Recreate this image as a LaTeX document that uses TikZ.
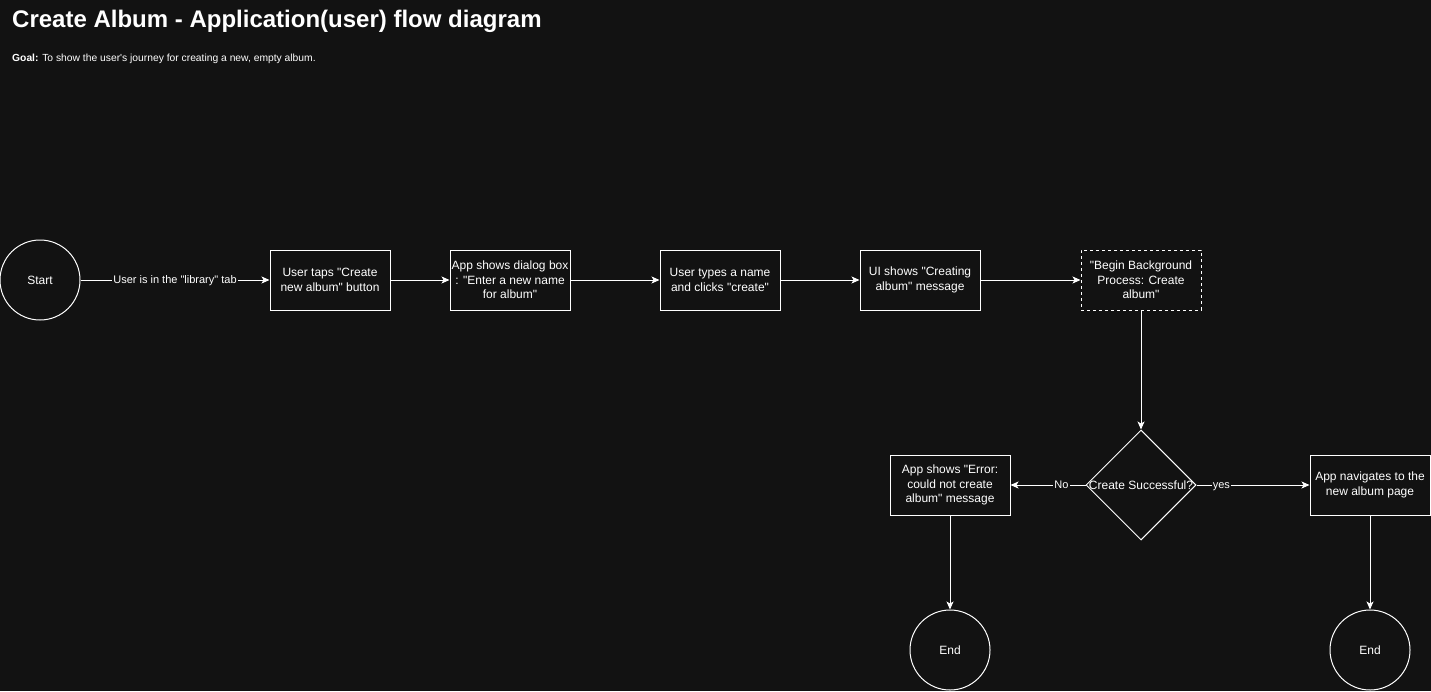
\documentclass[tikz,border=0pt]{standalone}
\usepackage{fontspec}
\setmainfont{Liberation Sans}[Ligatures=TeXOff]
\usetikzlibrary{shapes.geometric,arrows.meta}
\definecolor{bg}{RGB}{18,18,18}
\tikzset{
  every node/.style={text=white,font=\fontsize{12}{14.5}\selectfont},
  box/.style={draw=white,line width=1pt,minimum width=120pt,minimum height=60pt,align=center,inner sep=0pt},
  dbox/.style={box,dash pattern=on 3pt off 3pt},
  term/.style={draw=white,circle,line width=1pt,minimum size=80pt,inner sep=0pt},
  conn/.style={draw=white,line width=1pt,-{Stealth[length=8pt,width=7pt,inset=2pt]}},
  lbl/.style={fill=bg,inner sep=1pt,text height=8pt,text depth=1.5pt,font=\fontsize{11}{13}\selectfont}
}
\begin{document}
\begin{tikzpicture}[x=1pt,y=-1pt]
\fill[bg] (0,0) rectangle (1431,691);
\useasboundingbox (0,0) rectangle (1431,691);
\node[anchor=west,font=\fontsize{24}{28}\selectfont\bfseries,inner sep=0pt] (title) at (12,21) {Create Album - Application(user) flow diagram};
\node[anchor=west,font=\fontsize{10.3}{12}\selectfont,inner sep=0pt] (goal) at (12,59) {\textbf{Goal:} To show the user's journey for creating a new, empty album.};
\node[term] (start) at (40,280) {Start};
\node[box] (b1) at (330,280) {User taps "Create\\new album" button};
\node[box] (b2) at (510,280) {App shows dialog box\\: "Enter a new name\\for album"};
\node[box] (b3) at (720,280) {User types a name\\and clicks "create"};
\node[box] (b4) at (920,280) {UI shows "Creating\\album" message};
\node[dbox] (b5) at (1141,280) {"Begin Background\\Process: Create\\album"};
\node[diamond,draw=white,line width=1pt,minimum width=110pt,minimum height=110pt,inner sep=0pt] (dec) at (1141,485) {};
\node (dectext) at (1141,485) {Create Successful?};
\node[box] (err) at (950,485) {App shows "Error:\\could not create\\album" message};
\node[box] (nav) at (1370,485) {App navigates to the\\new album page};
\node[term] (end1) at (950,650) {End};
\node[term] (end2) at (1370,650) {End};
\draw[conn] (start) -- node[lbl] {User is in the "library" tab} (b1);
\draw[conn] (b1) -- (b2);
\draw[conn] (b2) -- (b3);
\draw[conn] (b3) -- (b4);
\draw[conn] (b4) -- (b5);
\draw[conn] (b5) -- (dec);
\draw[conn] (dec.west) -- node[lbl,pos=0.32] {No} (err);
\draw[conn] (dec.east) -- node[lbl,pos=0.22] {yes} (nav);
\draw[conn] (err) -- (end1);
\draw[conn] (nav) -- (end2);
\end{tikzpicture}
\end{document}
